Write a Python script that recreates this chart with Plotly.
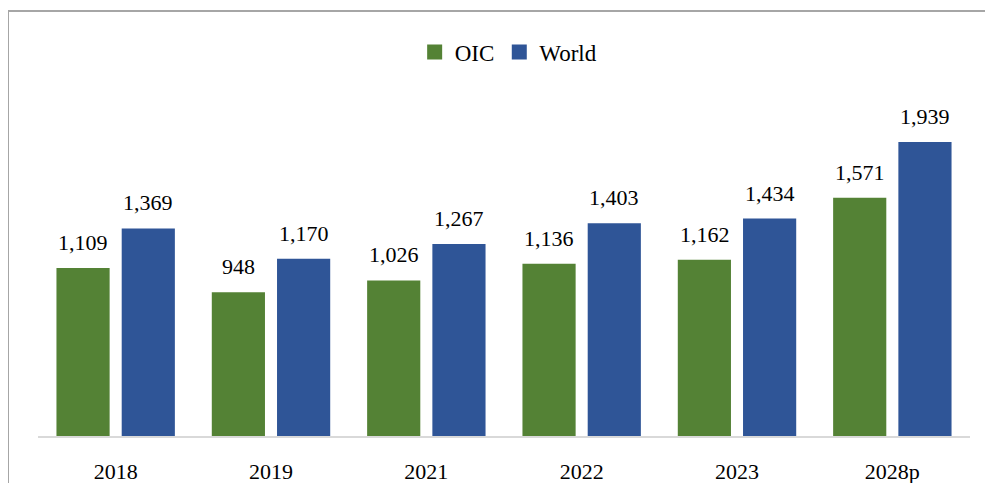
import plotly.graph_objects as go

categories = ["2018", "2019", "2021", "2022", "2023", "2028p"]
oic = [1109, 948, 1026, 1136, 1162, 1571]
world = [1369, 1170, 1267, 1403, 1434, 1939]
series_names = ["OIC", "World"]
colors = ["#548235", "#2f5597"]

FONT = "Liberation Serif"
OFF = 8  # page body margin offset

fig = go.Figure()
for name, vals, col in zip(series_names, [oic, world], colors):
    fig.add_trace(go.Bar(
        x=categories, y=vals, name=name, showlegend=False,
        marker=dict(color=col, line=dict(width=0)),
    ))
# legend entries with larger square swatches
for name, col in zip(series_names, colors):
    fig.add_trace(go.Scatter(
        x=[None], y=[None], mode="markers", name=name,
        marker=dict(symbol="square", size=15, color=col),
    ))

# data labels (x given as category index on the category axis)
for vals, shift in [(oic, -32.5), (world, 32.5)]:
    for i, v in enumerate(vals):
        fig.add_annotation(x=i, y=v, text=f"{v:,}", showarrow=False, xshift=shift,
                           yanchor="bottom", yshift=11,
                           font=dict(family=FONT, size=22, color="#000000"))

W, H = 993, 483
L, R, T, B = 38 - OFF, W - 970 + OFF, 80 - OFF, H - 436 + OFF
pw, ph = W - L - R, H - T - B

def px_x(p):
    return (p - OFF - L) / pw

def px_y(p):
    return (H - B - (p - OFF)) / ph

# outer frame (left and top lines)
fig.add_shape(type="line", xref="paper", yref="paper", x0=px_x(8), x1=px_x(8),
              y0=px_y(11), y1=px_y(520), line=dict(color="#a6a6a6", width=2))
fig.add_shape(type="line", xref="paper", yref="paper", x0=px_x(7), x1=px_x(1010),
              y0=px_y(11), y1=px_y(11), line=dict(color="#a6a6a6", width=2))

fig.update_layout(
    width=W, height=H,
    margin=dict(l=L, r=R, t=T, b=B, autoexpand=False),
    paper_bgcolor="white", plot_bgcolor="white",
    barmode="group", bargap=0.16, bargroupgap=0.185,
    font=dict(family=FONT, size=22, color="#000000"),
    showlegend=True,
    legend=dict(orientation="h", x=0.505, xanchor="center", y=px_y(52), yanchor="middle",
                font=dict(family=FONT, size=23), traceorder="normal"),
    xaxis=dict(type="category", range=[-0.5, 5.5], showline=True, linecolor="#d9d9d9",
               linewidth=2, ticks="", tickfont=dict(family=FONT, size=22), showgrid=False,
               ticklabelstandoff=15, automargin=False),
    yaxis=dict(range=[0, ph / 0.1516], visible=False, showgrid=False, automargin=False),
)

fig.write_html("out.html")
